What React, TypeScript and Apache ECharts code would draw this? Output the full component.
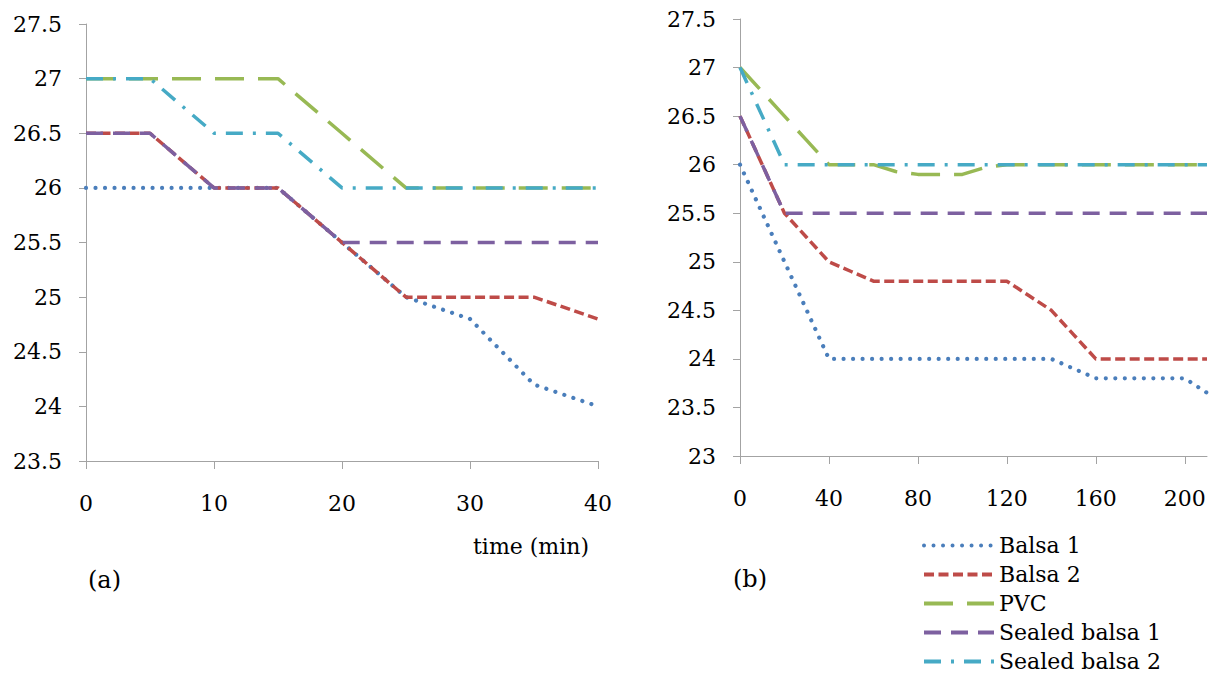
import React, { useEffect, useRef } from "react";
import * as echarts from "echarts";

// ---- Data ----
const SERIES_NAMES = ["Balsa 1", "Balsa 2", "PVC", "Sealed balsa 1", "Sealed balsa 2"];
const COLORS = ["#4A7EBB", "#BE4B48", "#98B954", "#7D60A0", "#46AAC5"];

// (a) time in minutes
const LEFT_TIME = ["0", "5", "10", "15", "20", "25", "30", "35", "40"];
const LEFT_BALSA1 = [26, 26, 26, 26, 25.5, 25, 24.8, 24.2, 24];
const LEFT_BALSA2 = [26.5, 26.5, 26, 26, 25.5, 25, 25, 25, 24.8];
const LEFT_PVC = [27, 27, 27, 27, 26.5, 26, 26, 26, 26];
const LEFT_SEALED1 = [26.5, 26.5, 26, 26, 25.5, 25.5, 25.5, 25.5, 25.5];
const LEFT_SEALED2 = [27, 27, 26.5, 26.5, 26, 26, 26, 26, 26];

// (b)
const RIGHT_TIME = [
  "0", "10", "20", "30", "40", "50", "60", "70", "80", "90", "100",
  "110", "120", "130", "140", "150", "160", "170", "180", "190", "200", "210",
];
const RIGHT_BALSA1 = [
  26, 25.5, 25, 24.5, 24, 24, 24, 24, 24, 24, 24,
  24, 24, 24, 24, 23.9, 23.8, 23.8, 23.8, 23.8, 23.8, 23.65,
];
const RIGHT_BALSA2 = [
  26.5, 26, 25.5, 25.25, 25, 24.9, 24.8, 24.8, 24.8, 24.8, 24.8,
  24.8, 24.8, 24.65, 24.5, 24.25, 24, 24, 24, 24, 24, 24,
];
const RIGHT_PVC = [
  27, 26.75, 26.5, 26.25, 26, 26, 26, 25.93, 25.9, 25.9, 25.9,
  25.97, 26, 26, 26, 26, 26, 26, 26, 26, 26, 26,
];
const RIGHT_SEALED1 = [
  26.5, 26, 25.5, 25.5, 25.5, 25.5, 25.5, 25.5, 25.5, 25.5, 25.5,
  25.5, 25.5, 25.5, 25.5, 25.5, 25.5, 25.5, 25.5, 25.5, 25.5, 25.5,
];
const RIGHT_SEALED2 = [
  27, 26.5, 26, 26, 26, 26, 26, 26, 26, 26, 26,
  26, 26, 26, 26, 26, 26, 26, 26, 26, 26, 26,
];

const LEFT_DATA = [LEFT_BALSA1, LEFT_BALSA2, LEFT_PVC, LEFT_SEALED1, LEFT_SEALED2];
const RIGHT_DATA = [RIGHT_BALSA1, RIGHT_BALSA2, RIGHT_PVC, RIGHT_SEALED1, RIGHT_SEALED2];

const DASHES: any[] = [
  [0.01, 9.5],
  [10, 4.5],
  [29, 14],
  [17, 10],
  [17, 10, 3, 10],
];
const CAPS = ["round", "butt", "butt", "butt", "butt"];
const WIDTHS = [4.2, 3.5, 3.5, 3.5, 3.5];

const FONT = "DejaVu Serif";
const AXIS_COLOR = "#a3a3a3";

export default function App() {
  const ref = useRef<HTMLDivElement>(null);

  useEffect(() => {
    if (!ref.current) return;
    const chart = echarts.init(ref.current, undefined, { renderer: "svg" });

    const xAxisCommon = (idx: number, data: string[], interval: number) => ({
      type: "category",
      gridIndex: idx,
      data,
      boundaryGap: false,
      axisLine: { show: true, lineStyle: { color: AXIS_COLOR, width: 1 } },
      axisTick: { show: true, interval, length: 8, lineStyle: { color: AXIS_COLOR } },
      axisLabel: {
        interval,
        margin: 31,
        color: "#000",
        fontFamily: FONT,
        fontSize: 22,
      },
      splitLine: { show: false },
    });

    const yAxisCommon = (idx: number, min: number) => ({
      type: "value",
      gridIndex: idx,
      min,
      max: 27.5,
      interval: 0.5,
      axisLine: { show: true, lineStyle: { color: AXIS_COLOR, width: 1 } },
      axisTick: { show: true, length: 7, lineStyle: { color: AXIS_COLOR } },
      axisLabel: {
        margin: 24,
        color: "#000",
        fontFamily: FONT,
        fontSize: 22,
        formatter: (v: number) => String(v),
      },
      splitLine: { show: false },
    });

    const makeSeries = (gridIdx: number, datasets: number[][]) =>
      datasets.map((d, i) => ({
        name: SERIES_NAMES[i],
        type: "line",
        xAxisIndex: gridIdx,
        yAxisIndex: gridIdx,
        data: d,
        symbol: "none",
        showSymbol: false,
        lineStyle: {
          color: COLORS[i],
          width: WIDTHS[i],
          type: DASHES[i],
          cap: CAPS[i],
          join: "round",
        },
        itemStyle: { color: COLORS[i] },
      }));

    chart.setOption({
      animation: false,
      backgroundColor: "#ffffff",
      grid: [
        { left: 86, top: 24, width: 512, height: 437 },
        { left: 740, top: 19, width: 467, height: 437 },
      ],
      xAxis: [xAxisCommon(0, LEFT_TIME, 1), xAxisCommon(1, RIGHT_TIME, 3)],
      yAxis: [yAxisCommon(0, 23.5), yAxisCommon(1, 23)],
      legend: {
        show: true,
        orient: "vertical",
        left: 922,
        top: 531,
        height: 160,
        width: 290,
        itemWidth: 70,
        itemHeight: 14,
        itemGap: 0,
        padding: 0,
        data: SERIES_NAMES,
        selectedMode: false,
        itemStyle: { opacity: 0, color: "transparent", borderWidth: 0 },
        lineStyle: { width: 4 },
        textStyle: {
          color: "#000",
          fontFamily: FONT,
          fontSize: 22,
          lineHeight: 29,
        },
      },
      graphic: [
        {
          type: "text",
          left: 473,
          top: 535,
          style: { text: "time (min)", fill: "#000", font: `22px "${FONT}"` },
        },
        {
          type: "text",
          left: 88,
          top: 568,
          style: { text: "(a)", fill: "#000", font: `24px "${FONT}"` },
        },
        {
          type: "text",
          left: 733,
          top: 567,
          style: { text: "(b)", fill: "#000", font: `24px "${FONT}"` },
        },
      ],
      series: [...makeSeries(0, LEFT_DATA), ...makeSeries(1, RIGHT_DATA)],
    });

    return () => {
      chart.dispose();
    };
  }, []);

  return (
    <div
      ref={ref}
      style={{ position: "fixed", left: 0, top: 0, width: 1215, height: 674 }}
    />
  );
}
